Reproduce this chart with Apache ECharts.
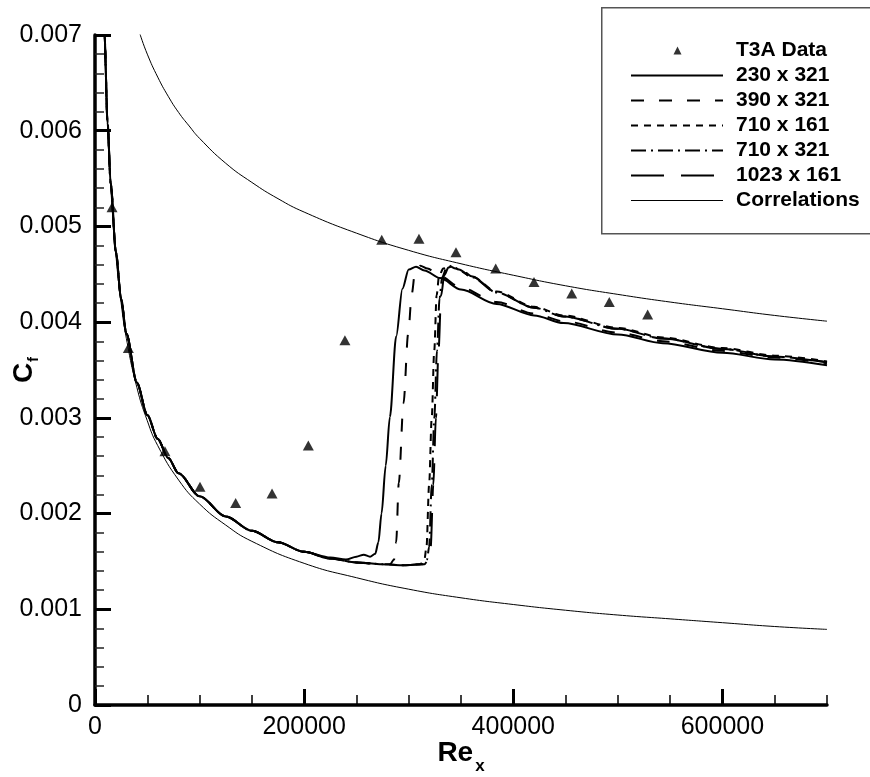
<!DOCTYPE html>
<html><head><meta charset="utf-8">
<script src="https://cdn.jsdelivr.net/npm/echarts@6/dist/echarts.min.js"></script>
<style>html,body{margin:0;padding:0;background:#fff}#chart{width:870px;height:777px}</style>
</head><body><div id="chart"></div>
<script>
const FONT = '"Liberation Sans", Arial, Helvetica, sans-serif';

// tick labels
const xTickValues = [0, 200000, 400000, 600000];
const yTickLabels = ['0', '0.001', '0.002', '0.003', '0.004', '0.005', '0.006', '0.007'];

// legend names
const names = ['T3A Data', '230 x 321', '390 x 321', '710 x 161', '710 x 321', '1023 x 161', 'Correlations'];

// T3A experimental data [Re_x, Cf]
const t3aData = [
  [16300, 0.00520], [31900, 0.00373], [66900, 0.00265], [100400, 0.00228],
  [134500, 0.00211], [169300, 0.00221], [204000, 0.00271], [239000, 0.00381],
  [274200, 0.00486], [309800, 0.00487], [345200, 0.00473], [383200, 0.00456],
  [419800, 0.00442], [455900, 0.00430], [491800, 0.00421], [528500, 0.00408]
];

// 230 x 321
const sim230x321 = [
  [6000, 0.00860], [9000, 0.00702], [12000, 0.00609], [15000, 0.00545], [20000, 0.00473],
  [25000, 0.00424], [30000, 0.00388], [40000, 0.00337], [50000, 0.00303], [60000, 0.00278],
  [70000, 0.00258], [80000, 0.00242], [100000, 0.00218], [125000, 0.00197], [150000, 0.00182],
  [175000, 0.00170], [200000, 0.00160], [225000, 0.00154], [240000, 0.00152], [250000, 0.00155],
  [257000, 0.00157], [263000, 0.00155], [268000, 0.00158], [271000, 0.00170], [274000, 0.00200],
  [278000, 0.00250], [282000, 0.00301], [288000, 0.00385], [294000, 0.00435], [300000, 0.00455],
  [307000, 0.00458], [315000, 0.00454], [330000, 0.00446], [350000, 0.00434], [384000, 0.00419],
  [420000, 0.00407], [448000, 0.00399], [500000, 0.00387], [543000, 0.00378], [600000, 0.00368],
  [650000, 0.00361], [700000, 0.00355]
];

// 390 x 321
const sim390x321 = [
  [6000, 0.00860], [9000, 0.00702], [12000, 0.00609], [15000, 0.00545], [20000, 0.00473],
  [25000, 0.00424], [30000, 0.00388], [40000, 0.00337], [50000, 0.00303], [60000, 0.00278],
  [70000, 0.00258], [80000, 0.00242], [100000, 0.00218], [125000, 0.00197], [150000, 0.00182],
  [175000, 0.00170], [200000, 0.00160], [225000, 0.00153], [250000, 0.00149], [270000, 0.00147],
  [282000, 0.00147], [286000, 0.00152], [288000, 0.00170], [290500, 0.00232], [295000, 0.00315],
  [299500, 0.00388], [303000, 0.00430], [306000, 0.00452], [311000, 0.00459], [318000, 0.00456],
  [330000, 0.00448], [350000, 0.00436], [384000, 0.00421], [420000, 0.00409], [448000, 0.00401],
  [500000, 0.00389], [543000, 0.00380], [600000, 0.00370], [650000, 0.00363], [700000, 0.00357]
];

// 710 x 161
const sim710x161 = [
  [6000, 0.00860], [9000, 0.00702], [12000, 0.00609], [15000, 0.00545], [20000, 0.00473],
  [25000, 0.00424], [30000, 0.00388], [40000, 0.00337], [50000, 0.00303], [60000, 0.00278],
  [70000, 0.00258], [80000, 0.00242], [100000, 0.00218], [125000, 0.00197], [150000, 0.00182],
  [175000, 0.00170], [200000, 0.00160], [225000, 0.00153], [250000, 0.00149], [275000, 0.00147],
  [295000, 0.00146], [311000, 0.00147], [315000, 0.00152], [317000, 0.00165], [319500, 0.00230],
  [322000, 0.00300], [324400, 0.00370], [326700, 0.00428], [329000, 0.00448], [333000, 0.00456],
  [338000, 0.00459], [345000, 0.00456], [360000, 0.00448], [384000, 0.00432], [420000, 0.00416],
  [448000, 0.00407], [500000, 0.00394], [543000, 0.00384], [600000, 0.00373], [650000, 0.00365],
  [700000, 0.00359]
];

// 710 x 321
const sim710x321 = [
  [6000, 0.00860], [9000, 0.00702], [12000, 0.00609], [15000, 0.00545], [20000, 0.00473],
  [25000, 0.00424], [30000, 0.00388], [40000, 0.00337], [50000, 0.00303], [60000, 0.00278],
  [70000, 0.00258], [80000, 0.00242], [100000, 0.00218], [125000, 0.00197], [150000, 0.00182],
  [175000, 0.00170], [200000, 0.00160], [225000, 0.00153], [250000, 0.00149], [275000, 0.00147],
  [295000, 0.00146], [313000, 0.00147], [317500, 0.00152], [319500, 0.00165], [322000, 0.00230],
  [324500, 0.00300], [327000, 0.00370], [329500, 0.00425], [332000, 0.00447], [336000, 0.00456],
  [341000, 0.00459], [348000, 0.00455], [360000, 0.00447], [384000, 0.00431], [420000, 0.00415],
  [448000, 0.00406], [500000, 0.00393], [543000, 0.00383], [600000, 0.00372], [650000, 0.00364],
  [700000, 0.00358]
];

// 1023 x 161
const sim1023x161 = [
  [6000, 0.00860], [9000, 0.00702], [12000, 0.00609], [15000, 0.00545], [20000, 0.00473],
  [25000, 0.00424], [30000, 0.00388], [40000, 0.00337], [50000, 0.00303], [60000, 0.00278],
  [70000, 0.00258], [80000, 0.00242], [100000, 0.00218], [125000, 0.00197], [150000, 0.00182],
  [175000, 0.00170], [200000, 0.00160], [225000, 0.00153], [250000, 0.00149], [275000, 0.00147],
  [295000, 0.00146], [315000, 0.00147], [319000, 0.00152], [321000, 0.00165], [323500, 0.00230],
  [326000, 0.00300], [328500, 0.00370], [331000, 0.00428], [334000, 0.00449], [338000, 0.00457],
  [343000, 0.00459], [350000, 0.00455], [360000, 0.00448], [384000, 0.00431], [420000, 0.00415],
  [448000, 0.00406], [500000, 0.00393], [543000, 0.00383], [600000, 0.00372], [650000, 0.00364],
  [700000, 0.00358]
];

// turbulent correlation (upper thin line)
const corrTurbulent = [
  [43000, 0.00701], [50000, 0.00680], [60000, 0.00656], [70000, 0.00636], [80000, 0.00619],
  [90000, 0.00605], [100000, 0.00592], [125000, 0.00566], [150000, 0.00546], [175000, 0.00529],
  [200000, 0.00515], [250000, 0.00493], [300000, 0.00475], [350000, 0.00461], [400000, 0.00449],
  [450000, 0.00438], [500000, 0.00429], [550000, 0.00421], [600000, 0.00414], [650000, 0.00407],
  [700000, 0.00401]
];

// laminar correlation (lower thin line)
const corrLaminar = [
  [9000, 0.00700], [10000, 0.00664], [12000, 0.00606], [15000, 0.00542], [20000, 0.00470],
  [25000, 0.00420], [30000, 0.00383], [40000, 0.00332], [50000, 0.00297], [60000, 0.00271],
  [80000, 0.00235], [100000, 0.00210], [125000, 0.00188], [150000, 0.00171], [200000, 0.00148],
  [250000, 0.00133], [300000, 0.00121], [350000, 0.00112], [400000, 0.00105], [450000, 0.00099],
  [500000, 0.00094], [550000, 0.00090], [600000, 0.00086], [650000, 0.00082], [700000, 0.00079]
];

const chart = echarts.init(document.getElementById('chart'), null, {renderer: 'canvas'});

function simLine(name, data, dash) {
  return {
    name: name, type: 'line', data: data, symbol: 'none', smooth: 0.3, smoothMonotone: 'x',
    clip: true, z: 3, silent: true,
    itemStyle: {color: '#000'},
    lineStyle: {color: '#000', width: 2, type: dash}
  };
}
function corrLine(data) {
  return {
    name: names[6], type: 'line', data: data, symbol: 'none', smooth: true, clip: true, z: 2, silent: true,
    itemStyle: {color: '#000'},
    lineStyle: {color: '#000', width: 1, type: 'solid'}
  };
}

const hiddenDot = {color: 'rgba(0,0,0,0)', borderWidth: 0, opacity: 0};
// triangle centred in a 92 x 8 box (invisible end points keep the box width)
const triIcon = 'path://M0,4L0.01,4Z M46.5,0L50.5,8L42.5,8Z M92,4L91.99,4Z';

const option = {
  backgroundColor: '#fff',
  animation: false,
  textStyle: {fontFamily: FONT},
  grid: {left: 95, right: 43, top: 35, bottom: 72, containLabel: false, outerBoundsMode: 'none'},
  xAxis: [{
    type: 'value', min: 0, max: 700000, interval: 200000,
    name: '{a|Re}{b|x}', nameLocation: 'middle', nameGap: 27, nameMoveOverlap: false,
    nameTextStyle: {rich: {
      a: {fontFamily: FONT, fontSize: 28, fontWeight: 'bold', color: '#000'},
      b: {fontFamily: FONT, fontSize: 17, fontWeight: 'bold', color: '#000', padding: [26, 0, 0, 2]}
    }},
    axisLine: {show: true, onZero: false, lineStyle: {color: '#000', width: 3.5}},
    axisTick: {show: true, inside: true, length: 16, customValues: xTickValues, lineStyle: {color: '#000', width: 3}},
    axisLabel: {show: true, margin: 10, customValues: xTickValues, fontFamily: FONT, fontSize: 25, color: '#000',
      formatter: v => String(v)},
    splitLine: {show: false}
  }, {
    type: 'value', min: 0, max: 700000, interval: 50000, position: 'bottom',
    axisLine: {show: false},
    axisTick: {show: true, inside: true, length: 10, lineStyle: {color: '#000', width: 1.5}},
    axisLabel: {show: false},
    splitLine: {show: false}
  }],
  yAxis: {
    type: 'value', min: 0, max: 0.007, interval: 0.001,
    name: '{a|C}{b|f}', nameLocation: 'middle', nameGap: 54, nameMoveOverlap: false,
    nameTextStyle: {rich: {
      a: {fontFamily: FONT, fontSize: 28, fontWeight: 'bold', color: '#000'},
      b: {fontFamily: FONT, fontSize: 15, fontWeight: 'bold', color: '#000', padding: [18, 0, 0, 1]}
    }},
    axisLine: {show: true, onZero: false, lineStyle: {color: '#000', width: 3.5}},
    axisTick: {show: true, inside: true, length: 16, lineStyle: {color: '#000', width: 3}},
    minorTick: {show: true, splitNumber: 5, length: 9, lineStyle: {color: '#222', width: 1.5}},
    axisLabel: {show: true, margin: 13, fontFamily: FONT, fontSize: 25, color: '#000',
      formatter: v => yTickLabels[Math.round(v / 0.001)]},
    splitLine: {show: false}
  },
  legend: {
    orient: 'vertical', left: 625, top: 35, itemWidth: 92, itemHeight: 8, itemGap: 4,
    selectedMode: false, align: 'left', symbolKeepAspect: true,
    lineStyle: {width: 2},
    textStyle: {fontFamily: FONT, fontSize: 21, fontWeight: 'bold', color: '#000', lineHeight: 21, padding: [0, 0, 0, 8]},
    data: [
      {name: names[0], icon: triIcon, itemStyle: {color: '#000', borderWidth: 0}},
      {name: names[1], itemStyle: hiddenDot},
      {name: names[2], itemStyle: hiddenDot},
      {name: names[3], itemStyle: hiddenDot},
      {name: names[4], itemStyle: hiddenDot},
      {name: names[5], itemStyle: hiddenDot},
      {name: names[6], itemStyle: hiddenDot, lineStyle: {width: 1}}
    ]
  },
  graphic: [{
    type: 'rect', left: 601, top: 7, z: 0, silent: true,
    shape: {width: 300, height: 226},
    style: {fill: '#fff', stroke: '#555', lineWidth: 1.5}
  }],
  series: [
    {
      name: names[0], type: 'scatter', data: t3aData, symbol: 'triangle', symbolSize: [11, 10],
      itemStyle: {color: '#000'}, z: 1, silent: true
    },
    simLine(names[1], sim230x321, 'solid'),
    simLine(names[2], sim390x321, [13, 15]),
    simLine(names[3], sim710x161, [7, 6]),
    simLine(names[4], sim710x321, [15, 5, 2, 5]),
    simLine(names[5], sim1023x161, [33, 17]),
    corrLine(corrTurbulent),
    corrLine(corrLaminar)
  ]
};
chart.setOption(option);
</script>
</body></html>
